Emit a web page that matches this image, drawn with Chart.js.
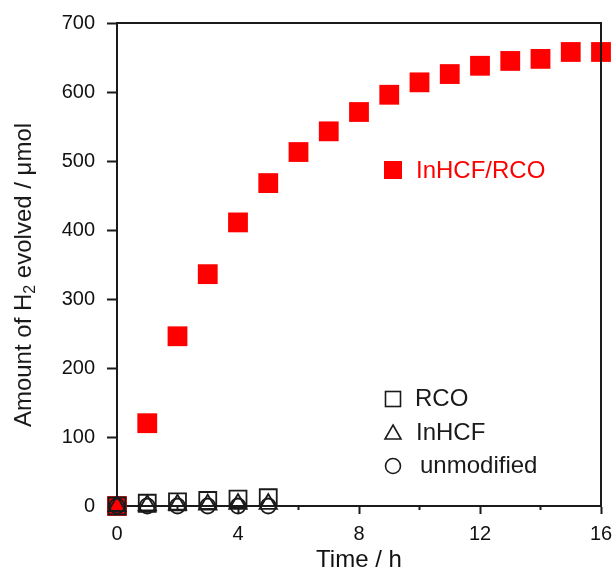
<!DOCTYPE html>
<html>
<head>
<meta charset="utf-8">
<script src="https://cdn.jsdelivr.net/npm/chart.js@4.4.1/dist/chart.umd.min.js"></script>
<style>
  body { margin: 0; background: #fff; }
</style>
</head>
<body>
<canvas id="myChart" width="615" height="570"></canvas>
<script>
// data
var hours = [0, 1, 2, 3, 4, 5, 6, 7, 8, 9, 10, 11, 12, 13, 14, 15, 16];
var inhcfRco = [0, 120, 246, 336, 411, 468, 513, 543, 571, 596, 614, 626, 638, 645, 648, 658, 658];
var shortHours = [0, 1, 2, 3, 4, 5];
var rco = [0, 4, 6, 8, 10, 12];
var inhcf = [0, 1, 2, 2, 3, 3];
var unmodified = [0, 0, 0, 0, 0, 0];
var labelEvery = 4; // x labels 0,4,8,12,16

var FONT = "'Liberation Sans', Arial, sans-serif";
var INK = "#1a1a1a";
var RED = "#ff0000";

function pts(xs, ys) {
  return xs.map(function (x, i) { return { x: x, y: ys[i] }; });
}

// frame, minor ticks, legends and y title
var extras = {
  id: "extras",
  afterDraw: function (chart) {
    var c = chart.ctx, a = chart.chartArea, xs = chart.scales.x;
    c.save();
    c.strokeStyle = INK;
    c.lineWidth = 2;
    c.beginPath();
    c.moveTo(a.left, a.top);
    c.lineTo(a.right, a.top);
    c.lineTo(a.right, a.bottom);
    c.stroke();

    // minor ticks on x
    xs.ticks.forEach(function (t) {
      if (t.value % labelEvery !== 0) {
        var px = xs.getPixelForValue(t.value);
        c.beginPath();
        c.moveTo(px, a.bottom);
        c.lineTo(px, a.bottom + 4);
        c.stroke();
      }
    });

    // legends
    var lx = a.left + 276;
    c.font = "24px " + FONT;
    c.textBaseline = "middle";
    c.fillStyle = RED;
    c.fillRect(lx - 9, a.top + 147 - 9, 18, 18);
    c.fillText("InHCF/RCO", lx + 23, a.top + 148);

    c.fillStyle = INK;
    c.lineWidth = 1.6;
    var y1 = a.top + 376, y2 = a.top + 410, y3 = a.top + 443;
    c.strokeRect(lx - 7.5, y1 - 7.5, 15, 15);
    c.fillText("RCO", lx + 22, y1);
    c.beginPath();
    c.moveTo(lx, y2 - 8);
    c.lineTo(lx + 8, y2 + 6);
    c.lineTo(lx - 8, y2 + 6);
    c.closePath();
    c.stroke();
    c.fillText("InHCF", lx + 23, y2);
    c.beginPath();
    c.arc(lx, y3, 7.5, 0, Math.PI * 2);
    c.stroke();
    c.fillText("unmodified", lx + 27, y3);

    // y title with a real subscript
    c.translate(24, 275);
    c.rotate(-Math.PI / 2);
    var big = "24px " + FONT, small = "16px " + FONT;
    var p1 = "Amount of H", p2 = "2", p3 = " evolved / \u03bcmol";
    c.font = big; var w1 = c.measureText(p1).width, w3 = c.measureText(p3).width;
    c.font = small; var w2 = c.measureText(p2).width;
    var x0 = -(w1 + w2 + w3) / 2;
    c.textAlign = "left";
    c.font = big; c.fillText(p1, x0, 0);
    c.font = small; c.fillText(p2, x0 + w1, 7);
    c.font = big; c.fillText(p3, x0 + w1 + w2, 0);
    c.restore();
  }
};

var ctx = document.getElementById("myChart").getContext("2d");
var chart = new Chart(ctx, {
  type: "scatter",
  data: {
    datasets: [
      {
        label: "InHCF/RCO",
        data: pts(hours, inhcfRco),
        pointStyle: "rect",
        pointRadius: 14,
        pointHoverRadius: 14,
        backgroundColor: RED,
        borderColor: RED,
        borderWidth: 0,
        order: 5,
        clip: false
      },
      {
        label: "RCO",
        data: pts(shortHours, rco),
        pointStyle: "rect",
        pointRadius: 12,
        pointHoverRadius: 12,
        backgroundColor: "rgba(0,0,0,0)",
        borderColor: INK,
        borderWidth: 1.8,
        order: 1,
        clip: false
      },
      {
        label: "InHCF",
        data: pts(shortHours, inhcf),
        pointStyle: "triangle",
        pointRadius: 10,
        pointHoverRadius: 10,
        backgroundColor: "rgba(0,0,0,0)",
        borderColor: INK,
        borderWidth: 1.8,
        order: 1,
        clip: false
      },
      {
        label: "unmodified",
        data: pts(shortHours, unmodified),
        pointStyle: "circle",
        pointRadius: 7.5,
        pointHoverRadius: 7.5,
        backgroundColor: "rgba(0,0,0,0)",
        borderColor: INK,
        borderWidth: 1.8,
        order: 1,
        clip: false
      }
    ]
  },
  options: {
    responsive: false,
    animation: false,
    layout: { padding: { top: 23, right: 14, left: 0, bottom: 0 } },
    plugins: { legend: { display: false }, tooltip: { enabled: false } },
    scales: {
      x: {
        type: "linear",
        min: 0,
        max: 16,
        afterFit: function (s) {
          s.height = 64;
          s.paddingLeft = 0;
          s.paddingRight = 0;
        },
        border: { display: true, color: INK, width: 2 },
        grid: {
          drawOnChartArea: false,
          drawTicks: true,
          tickLength: 8,
          tickWidth: 2,
          tickColor: function (c) {
            return c.tick && c.tick.value % labelEvery === 0 ? INK : "rgba(0,0,0,0)";
          }
        },
        ticks: {
          stepSize: 2,
          autoSkip: false,
          maxRotation: 0,
          padding: 8,
          color: "#111",
          font: { family: FONT, size: 20 },
          callback: function (v) { return v % labelEvery === 0 ? v : ""; }
        },
        title: {
          display: true,
          text: "Time / h",
          color: "#111",
          padding: { top: 0, bottom: 0 },
          font: { family: FONT, size: 24, lineHeight: 0.8 }
        }
      },
      y: {
        min: 0,
        max: 700,
        afterFit: function (s) {
          s.width = 117;
          s.paddingTop = 0;
          s.paddingBottom = 0;
        },
        border: { display: true, color: INK, width: 2 },
        grid: {
          drawOnChartArea: false,
          drawTicks: true,
          tickLength: 10,
          tickWidth: 2,
          tickColor: INK
        },
        ticks: {
          stepSize: 100,
          padding: 12,
          color: "#111",
          font: { family: FONT, size: 20 }
        }
      }
    }
  },
  plugins: [extras]
});
</script>
</body>
</html>
